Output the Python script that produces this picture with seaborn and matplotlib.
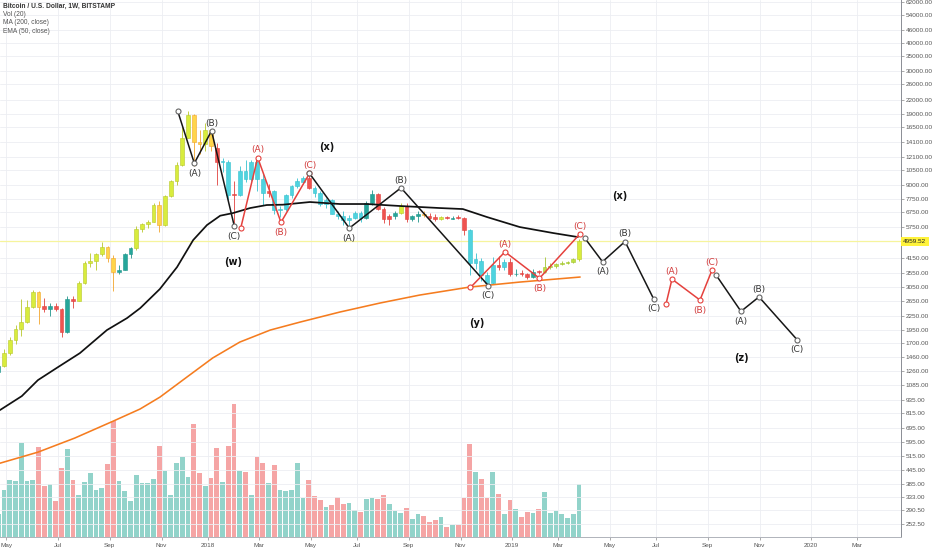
import numpy as np
import pandas as pd
import matplotlib
matplotlib.use("Agg")
import matplotlib.pyplot as plt
import matplotlib.transforms as mtransforms
from matplotlib.ticker import NullLocator
import seaborn as sns

# ---------------- data: weekly candles, week 0 = week of 2017-05-01 ----------------
opens = [1250, 1330, 1530, 1750, 1970, 2110, 2480, 2900, 2500, 2440,
         2500, 2440, 1900, 2700, 2650, 3180, 3940, 4050, 4350, 4650,
         4150, 3600, 3680, 4350, 4600, 5650, 5950, 6100, 7300, 5900,
         8000, 9350, 11100, 14750, 18800, 14100, 13900, 16000, 13300, 11400,
         11500, 8200, 8100, 10400, 9550, 11450, 9550, 8250, 8450, 6900,
         7000, 8100, 8900, 9300, 9650, 8700, 8250, 7350, 7650, 6650,
         6450, 6200, 6350, 6700, 6350, 7400, 8200, 7000, 6300, 6450,
         6700, 7200, 6250, 6500, 6650, 6500, 6400, 6250, 6380, 6300,
         6380, 6350, 5600, 3950, 4050, 3480, 3200, 3850, 3800, 4000,
         3500, 3530, 3510, 3420, 3610, 3580, 3800, 3830, 3900, 3960,
         3990, 4100]
highs = [1350, 1600, 1800, 2050, 2700, 2680, 2980, 2950, 2720, 2600,
         2580, 2450, 2780, 2780, 3280, 4050, 4400, 4400, 4900, 4700,
         4300, 3850, 4400, 4650, 5850, 6000, 6200, 7400, 7600, 8100,
         9500, 11500, 16500, 19650, 19000, 16000, 17200, 16300, 14000, 12000,
         11700, 9400, 11000, 11700, 11700, 11600, 10200, 9100, 8500, 7200,
         8200, 9000, 9700, 9900, 10000, 8900, 8400, 7800, 7750, 6800,
         6800, 6550, 6800, 6800, 7550, 8500, 8300, 7150, 6600, 6850,
         7400, 7400, 6550, 6800, 6800, 6700, 6650, 6450, 6450, 6450,
         6550, 6400, 5650, 4400, 4150, 3600, 4200, 4250, 4100, 4150,
         3700, 3650, 3550, 3700, 3680, 4200, 3950, 3950, 4050, 4050,
         4150, 5100]
lows = [1220, 1320, 1500, 1680, 1830, 2090, 2450, 2080, 2350, 2250,
        2380, 1800, 1880, 2450, 2650, 3150, 3800, 3650, 4250, 4000,
        2950, 3500, 3650, 4150, 4550, 5450, 5700, 6050, 5500, 5850,
        7900, 9000, 11000, 14700, 11000, 12500, 12800, 12800, 9000, 10300,
        7700, 6000, 8000, 9300, 9400, 8400, 7300, 7900, 6600, 6400,
        6800, 7800, 8700, 9100, 8600, 7900, 7200, 7050, 6600, 6300,
        5900, 5800, 6250, 6100, 6300, 7300, 6900, 6000, 5900, 6300,
        6650, 6100, 6150, 6100, 6400, 6250, 6150, 6200, 6300, 6250,
        6300, 5300, 3480, 3700, 3250, 3120, 3150, 3650, 3650, 3450,
        3450, 3450, 3350, 3380, 3520, 3560, 3700, 3750, 3850, 3900,
        3950, 4050]
closes = [1330, 1530, 1750, 1970, 2110, 2480, 2900, 2480, 2440, 2500,
          2440, 1900, 2700, 2650, 3180, 3940, 4050, 4350, 4650, 4150,
          3600, 3680, 4350, 4600, 5650, 5950, 6100, 7300, 5900, 8000,
          9350, 11100, 14750, 18800, 14200, 13900, 16000, 13600, 11500, 11600,
          8100, 8100, 10400, 9550, 11450, 9550, 8250, 8450, 6900, 7000,
          8100, 8900, 9400, 9650, 8700, 8250, 7350, 7650, 6650, 6450,
          6200, 6350, 6700, 6350, 7400, 8200, 7000, 6300, 6450, 6700,
          7200, 6250, 6500, 6650, 6550, 6350, 6250, 6380, 6330, 6360,
          6330, 5600, 3950, 4100, 3480, 3200, 3850, 3800, 4000, 3500,
          3530, 3510, 3420, 3600, 3580, 3800, 3830, 3900, 3960, 3980,
          4100, 4959.52]
candle_tone = list("T" "YYYYYYORTRRTRYYYYYOOTTTYYYYOYYYYYOOYOR"
                   "CCRCCCCCRCCCCCCRCCCCCCCCCTTRRRTYRTTORRYRTRR"
                   "CCCCCRCRTRRTRGGGGGGY")
volume = [70, 142, 170, 167, 283, 167, 170, 270, 153, 158,
          107, 207, 263, 172, 127, 165, 192, 142, 147, 218,
          347, 169, 137, 109, 185, 162, 163, 175, 272, 197,
          127, 223, 239, 180, 338, 191, 154, 176, 267, 164,
          273, 398, 197, 196, 125, 239, 222, 162, 217, 140,
          139, 142, 221, 116, 170, 122, 110, 89, 95, 120,
          99, 102, 80, 75, 113, 117, 113, 125, 100, 77,
          71, 87, 53, 68, 62, 45, 50, 59, 29, 37,
          37, 117, 280, 194, 175, 116, 194, 128, 68, 112,
          85, 61, 74, 71, 83, 134, 71, 79, 68, 57,
          68, 158]
last_price = 4959.52

ema_week = [-0.7, 3.1, 5.9, 9.4, 13.2, 17.9, 21.4, 23.7, 27.1, 30.1, 32.9, 35.3, 37.6, 39.8,
            42.8, 45.7, 48.5, 53.2, 58.4, 63.1, 68.9, 75.8, 79.8, 84.0, 89.7, 95.5, 99.8]
ema_val = [837, 970, 1148, 1317, 1526, 1946, 2208, 2454, 2999, 3782, 5027, 5890, 6500, 6680,
           7046, 7274, 7300, 7508, 7352, 7352, 7199, 7046, 6972, 6408, 5766, 5414, 5190]
ma_week = [-0.7, 5.9, 12.3, 19.0, 23.65, 27.13, 31.8, 36.3, 41.0, 46.3, 51.5, 58.4, 65.4, 72.3, 81.0, 89.7, 100.2]
ma_val = [478, 537, 623, 745, 846, 960, 1185, 1450, 1714, 1946, 2117, 2353, 2588, 2815, 3063, 3228, 3404]

# Elliott wave pivots (week index, price)
w_weeks, w_prices = [30.21, 33.10, 36.09, 40.05], [19600, 11300, 15900, 5830]
x1r_weeks, x1r_prices = [41.17, 44.12, 48.17, 53.13], [5700, 12000, 6060, 10150]
x1b_weeks, x1b_prices = [53.13, 60.05, 69.04, 84.23], [10150, 5700, 8720, 3110]
y_weeks, y_prices = [81.13, 87.13, 93.13, 100.09], [3050, 4440, 3360, 5340]
x2b_weeks, x2b_prices = [101.04, 104.09, 108.0, 112.96], [5120, 4000, 4950, 2710]
x2r_weeks, x2r_prices = [115.13, 116.17, 121.04, 123.13], [2560, 3330, 2670, 3660]
z_weeks, z_prices = [123.83, 128.17, 131.30, 137.91], [3480, 2370, 2760, 1760]
wave_labels = ["", "(A)", "(B)", "(C)"]
degree_text = ["(w)", "(x)", "(y)", "(x)", "(z)"]
degree_week = [39.83, 56.12, 82.2, 107.13, 128.17]
degree_price = [3987, 13452, 2101, 7997, 1448]

price_ticks = [62000, 54000, 46000, 40000, 35000, 30000, 26000, 22000, 19000, 16500, 14100,
               12100, 10500, 9000, 7750, 6750, 5750, 4150, 3550, 3050, 2650, 2250, 1950,
               1700, 1460, 1260, 1085, 935, 815, 695, 595, 515, 445, 385, 333, 290.5, 252.5]

legend_lines = ["Bitcoin / U.S. Dollar, 1W, BITSTAMP", "Vol (20)", "MA (200, close)", "EMA (50, close)"]

# ---------------- build ----------------
weeks = np.arange(len(opens)) - 1
df = pd.DataFrame({"week": weeks, "open": opens, "high": highs, "low": lows,
                   "close": closes, "tone": candle_tone, "volume": volume})

sns.set_theme(style="white")
plt.rcParams["font.family"] = ["DejaVu Sans"]
SMALL_FONT = ["Liberation Sans", "DejaVu Sans"]

fig = plt.figure(figsize=(9.32, 5.5), dpi=100)
rect = [0, 13 / 550, 901 / 932, 537 / 550]
axv = fig.add_axes(rect)
ax = fig.add_axes(rect, sharex=axv)
ax.patch.set_alpha(0)

XMIN, XMAX = -0.696, 156.0

# volume
up = df["close"] >= df["open"]
vcol = np.where(up, "#92d3ca", "#f5a5a5")
axv.bar(df["week"], df["volume"], width=0.86, color=vcol, linewidth=0, zorder=1)
axv.set_ylim(0, 1611)
axv.set_xlim(XMIN, XMAX)
axv.axis("off")
axv.set_facecolor("white")

# price axes
ax.set_yscale("log")
ax.set_ylim(219.5, 63200)
ax.set_xlim(XMIN, XMAX)

# grid
ax.set_axisbelow(True)
ax.grid(True, color="#eceef2", lw=0.6)
ax.yaxis.set_minor_locator(NullLocator())

# current price line
ax.axhline(last_price, color="#f6f49c", lw=0.9, zorder=1)

# candles
fill = {"Y": "#d8ec3d", "O": "#ffd54a", "R": "#ef5350", "T": "#26a69a", "C": "#4fd3df", "G": "#bfe045"}
edge = {"Y": "#b8c82a", "O": "#f2a52c", "R": "#e0403d", "T": "#1f948a", "C": "#36c2cf", "G": "#a2c42e"}
for _, r in df.iterrows():
    fc, ec = fill[r.tone], edge[r.tone]
    ax.vlines(r.week, r.low, r.high, color=ec, lw=0.6, zorder=2)
    lo = min(r.open, r.close)
    h = max(abs(r.close - r.open), lo * 0.008)
    ax.bar(r.week, h, bottom=lo, width=0.68, color=fc, edgecolor=ec, linewidth=0.4, zorder=3)

# moving averages
sns.lineplot(x=ema_week, y=ema_val, ax=ax, color="#111111", lw=1.25, sort=False, estimator=None, zorder=4)
sns.lineplot(x=ma_week, y=ma_val, ax=ax, color="#f57c1f", lw=1.15, sort=False, estimator=None, zorder=4)

# waves
def draw_wave(wk, pr, line_c, circ_c, text_c):
    sns.lineplot(x=wk, y=pr, ax=ax, color=line_c, lw=1.1, sort=False, estimator=None, zorder=6)
    ax.scatter(wk, pr, s=13, facecolor="white", edgecolor=circ_c, linewidth=0.8, zorder=7)
    for k in range(1, len(wk)):
        is_up = pr[k] > pr[k - 1]
        ax.annotate(wave_labels[k], (wk[k], pr[k]), xytext=(0, 5.5 if is_up else -7.2),
                    textcoords="offset points", ha="center", va="center",
                    fontsize=6.5, color=text_c, zorder=8)

BLK, RED = "#161616", "#e5413d"
draw_wave(w_weeks, w_prices, BLK, "#666666", "#333333")
draw_wave(x1r_weeks, x1r_prices, RED, RED, "#d23b3b")
draw_wave(x1b_weeks, x1b_prices, BLK, "#666666", "#333333")
draw_wave(y_weeks, y_prices, RED, RED, "#d23b3b")
draw_wave(x2b_weeks, x2b_prices, BLK, "#666666", "#333333")
draw_wave(x2r_weeks, x2r_prices, RED, RED, "#d23b3b")
draw_wave(z_weeks, z_prices, BLK, "#666666", "#333333")

for t, wk, pr in zip(degree_text, degree_week, degree_price):
    ax.text(wk, pr, t, ha="center", va="center", fontsize=7, fontweight="bold", color="#111111", zorder=8)

# x ticks: first weekly bar of every odd month (labels sit slightly right of the bar)
starts = pd.date_range("2017-04-24", periods=170, freq="7D")
tick_pos, tick_lab, seen = [], [], set()
for wk, d in zip(np.arange(len(starts)) - 1, starts):
    if wk < 0 or wk > XMAX:
        continue
    key = (d.year, d.month)
    if d.month % 2 == 1 and key not in seen:
        seen.add(key)
        tick_pos.append(wk + 0.4)
        tick_lab.append(str(d.year) if d.month == 1 else d.strftime("%b"))
ax.set_xticks(tick_pos)
ax.set_xticklabels(tick_lab, family=SMALL_FONT)

# y ticks right
ax.yaxis.tick_right()
ax.set_yticks(price_ticks)
ax.set_yticklabels([f"{t:.2f}" for t in price_ticks], family=SMALL_FONT)
ax.yaxis.set_minor_locator(NullLocator())
ax.tick_params(axis="y", which="both", right=True, left=False, labelsize=4.6,
               labelcolor="#555555", color="#888888", length=2, width=0.5, pad=1.5)
ax.tick_params(axis="x", bottom=True, labelsize=4.6, labelcolor="#555555",
               color="#888888", length=2, width=0.5, pad=2)
for s in ["top", "left"]:
    ax.spines[s].set_visible(False)
ax.spines["right"].set_color("#8a8d94")
ax.spines["right"].set_linewidth(0.7)
ax.spines["bottom"].set_color("#b0b3ba")
ax.spines["bottom"].set_linewidth(0.7)

# current price tag
trans = mtransforms.blended_transform_factory(ax.transAxes, ax.transData)
ax.text(1.0025, last_price, f"{last_price:.2f}", transform=trans, ha="left", va="center",
        fontsize=4.6, color="#222222", clip_on=False, zorder=10, family=SMALL_FONT,
        bbox=dict(boxstyle="square,pad=0.35", facecolor="#fff33b", edgecolor="none"))

# legend block
for k, line in enumerate(legend_lines):
    fig.text(3 / 932, 1 - (6 + 8.5 * k) / 550, line, ha="left", va="center",
             fontsize=4.8, color="#333333" if k == 0 else "#555555", family=SMALL_FONT,
             fontweight="bold" if k == 0 else "normal")

fig.savefig("out.png", dpi=100, facecolor="white")
